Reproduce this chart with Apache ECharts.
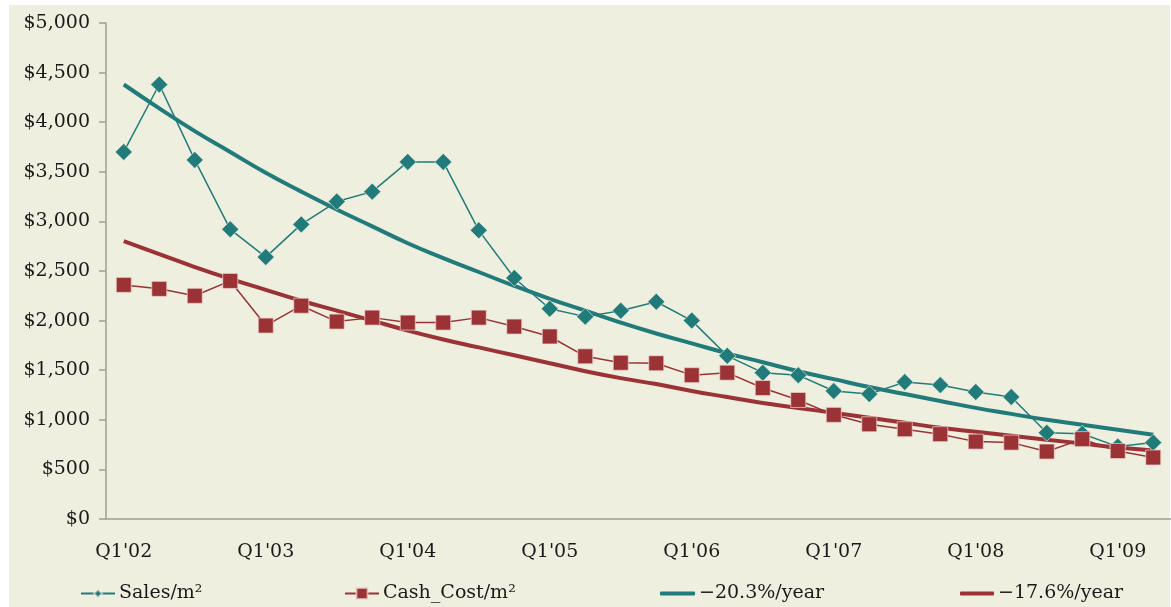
<!DOCTYPE html>
<html>
<head>
<meta charset="utf-8">
<script src="https://cdn.jsdelivr.net/npm/echarts@6/dist/echarts.min.js"></script>
<style>
  html, body { margin: 0; padding: 0; background: #ffffff; }
  #bg { position: absolute; left: 9px; top: 5px; width: 1161px; height: 602px; background: #EEEFDE; }
  #chart { position: absolute; left: 0; top: 0; width: 1171px; height: 607px; }
</style>
</head>
<body>
<div id="bg"></div>
<div id="chart"></div>
<script>
const categories = [
  "Q1'02","Q2'02","Q3'02","Q4'02",
  "Q1'03","Q2'03","Q3'03","Q4'03",
  "Q1'04","Q2'04","Q3'04","Q4'04",
  "Q1'05","Q2'05","Q3'05","Q4'05",
  "Q1'06","Q2'06","Q3'06","Q4'06",
  "Q1'07","Q2'07","Q3'07","Q4'07",
  "Q1'08","Q2'08","Q3'08","Q4'08",
  "Q1'09","Q2'09"
];
const salesPerM2 = [3700, 4380, 3620, 2920, 2640, 2970, 3200, 3300, 3600, 3600, 2910, 2430, 2120, 2040, 2100, 2190, 2000, 1645, 1475, 1450, 1290, 1260, 1380, 1350, 1280, 1230, 870, 860, 730, 770];
const cashCostPerM2 = [2360, 2320, 2250, 2400, 1950, 2150, 1990, 2030, 1980, 1980, 2030, 1940, 1840, 1640, 1575, 1570, 1450, 1475, 1320, 1200, 1050, 955, 905, 855, 780, 770, 680, 805, 685, 620];
const salesTrend = [4380, 4140, 3910, 3700, 3490, 3300, 3120, 2950, 2780, 2630, 2490, 2350, 2220, 2100, 1980, 1870, 1770, 1670, 1580, 1490, 1410, 1330, 1260, 1190, 1120, 1060, 1000, 950, 900, 850];
const cashTrend = [2800, 2670, 2540, 2420, 2310, 2200, 2100, 2000, 1900, 1810, 1730, 1650, 1570, 1490, 1420, 1360, 1290, 1230, 1170, 1120, 1070, 1020, 970, 920, 880, 840, 800, 760, 720, 690];
const seriesNames = ["Sales/m²", "Cash_Cost/m²", "\u221220.3%/year", "\u221217.6%/year"];
const yTicks = { min: 0, max: 5000, interval: 500 };

const TEAL = '#217B7B';
const RED = '#9B3235';
const FONT = 'DejaVu Serif';
const TXT = '#1a1a1a';

const chart = echarts.init(document.getElementById('chart'), null, { renderer: 'canvas' });

function legendAt(name, left, iconW, itemH, icon) {
  const l = {
    data: [name], left: left, top: 584,
    itemWidth: iconW, itemHeight: itemH, itemGap: 0,
    textStyle: { fontFamily: FONT, fontSize: 19, color: TXT, padding: [0, 0, 0, -1] },
    padding: 0
  };
  if (icon) l.icon = icon;
  return l;
}

chart.setOption({
  backgroundColor: 'transparent',
  animation: false,
  grid: { left: 106, right: -3, top: 23, bottom: 88, containLabel: false },
  legend: [
    legendAt(seriesNames[0], 80, 34, 10),
    legendAt(seriesNames[1], 344, 34, 14),
    legendAt(seriesNames[2], 660, 35, 4, 'roundRect'),
    legendAt(seriesNames[3], 960, 34, 4, 'roundRect')
  ],
  xAxis: {
    type: 'category', data: categories, boundaryGap: true,
    axisLine: { lineStyle: { color: '#9E9E98', width: 1.5 } },
    axisTick: { show: false },
    axisLabel: { interval: 3, margin: 24, fontFamily: FONT, fontSize: 19, color: TXT }
  },
  yAxis: {
    type: 'value', min: yTicks.min, max: yTicks.max, interval: yTicks.interval,
    splitLine: { show: false },
    axisLine: { show: true, lineStyle: { color: '#9E9E98', width: 1.5 } },
    axisTick: { show: true, length: 7, lineStyle: { color: '#9E9E98', width: 1.5 } },
    axisLabel: {
      margin: 16, fontFamily: FONT, fontSize: 19, color: TXT,
      formatter: v => '$' + v.toLocaleString('en-US')
    }
  },
  series: [
    {
      name: seriesNames[2], type: 'line', data: salesTrend, smooth: true,
      symbol: 'none', lineStyle: { color: TEAL, width: 4 }, itemStyle: { color: TEAL }, z: 2
    },
    {
      name: seriesNames[3], type: 'line', data: cashTrend, smooth: true,
      symbol: 'none', lineStyle: { color: RED, width: 4 }, itemStyle: { color: RED }, z: 2
    },
    {
      name: seriesNames[0], type: 'line', data: salesPerM2,
      symbol: 'diamond', symbolSize: 17,
      lineStyle: { color: TEAL, width: 1.5 },
      itemStyle: { color: TEAL, borderColor: 'rgba(235,240,225,0.6)', borderWidth: 1 }, z: 3
    },
    {
      name: seriesNames[1], type: 'line', data: cashCostPerM2,
      symbol: 'rect', symbolSize: 15,
      lineStyle: { color: RED, width: 1.5 },
      itemStyle: { color: RED, borderColor: 'rgba(240,215,210,0.7)', borderWidth: 1 }, z: 3
    }
  ]
});
</script>
</body>
</html>
